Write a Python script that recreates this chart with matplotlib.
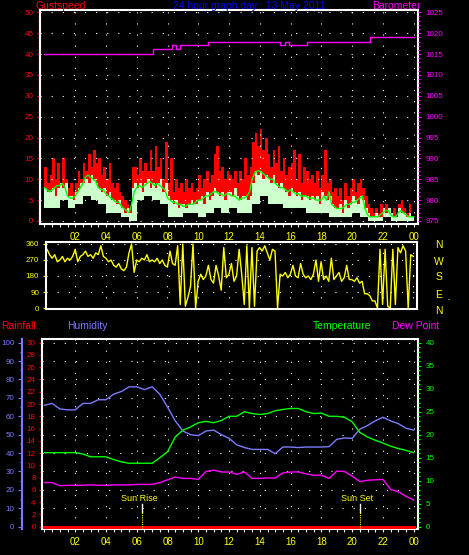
"""24 hour weather graph for 13 May 2011: wind, direction, humidity and temperature."""

import matplotlib
matplotlib.use("Agg")
import matplotlib.pyplot as plt
import numpy as np
from matplotlib.ticker import AutoMinorLocator, FixedLocator, MultipleLocator

plt.rcParams["font.family"] = ["Liberation Sans", "DejaVu Sans"]

# ------------------------------------------------------------------- data
# wind speed, 10 minute readings 00:00 -> 24:00
gust = [13, 9, 11, 15, 10, 14, 9, 15, 10, 8, 9, 7,
        9, 12, 10, 14, 12, 16, 13, 17, 14, 15, 11, 13,
        10, 14, 9, 8, 9, 7, 6, 5, 4, 3, 13, 13,
        11, 15, 12, 14, 12, 17, 12, 18, 13, 15, 10, 19,
        9, 15, 7, 10, 8, 9, 7, 10, 8, 9, 7, 8,
        11, 8, 10, 12, 9, 11, 16, 18, 12, 13, 10, 12,
        11, 10, 12, 9, 12, 10, 15, 11, 13, 19, 21, 18,
        22, 17, 20, 16, 13, 17, 14, 18, 12, 15, 11, 13,
        14, 17, 10, 16, 9, 13, 12, 10, 11, 9, 12, 8,
        11, 17, 9, 10, 7, 8, 6, 8, 5, 9, 6, 8,
        10, 7, 9, 10, 8, 6, 4, 3, 2, 3, 2, 4,
        3, 4, 3, 2, 3, 1, 4, 5, 3, 2, 4, 1,
        2]
wind = [8, 7, 7, 8, 6, 8, 9, 8, 9, 6, 6, 5,
        7, 8, 9, 9, 10, 9, 11, 10, 9, 8, 7, 8,
        6, 7, 5, 5, 4, 5, 3, 2, 3, 2, 8, 9,
        8, 9, 7, 9, 10, 8, 9, 8, 9, 10, 7, 9,
        6, 5, 4, 5, 3, 4, 4, 3, 4, 5, 4, 4,
        5, 6, 4, 7, 5, 6, 8, 7, 6, 7, 5, 7,
        7, 6, 8, 6, 5, 6, 6, 5, 6, 9, 12, 11,
        12, 10, 11, 10, 9, 11, 9, 8, 9, 8, 7, 6,
        8, 7, 6, 7, 5, 6, 6, 5, 6, 5, 6, 4,
        7, 6, 5, 6, 4, 3, 3, 4, 2, 5, 3, 4,
        6, 5, 4, 6, 5, 3, 2, 1, 1, 2, 1, 1,
        3, 2, 3, 2, 1, 1, 3, 2, 2, 1, 2, 1,
        1]
wind_avg = [8, 7.5, 7, 7.5, 8, 8.5, 8.5, 9, 8, 6, 5.5, 5.5,
            6, 7, 8, 9, 10.5, 11, 10.5, 10, 9.5, 8, 7.5, 7.5,
            6.5, 6, 5.5, 5, 4.5, 4.5, 3.5, 3, 2.5, 2, 4, 7,
            8, 8.5, 8, 8.5, 9, 9.5, 9, 8.5, 9, 8.5, 8, 7.5,
            5.5, 5, 4.5, 4.5, 4, 4, 3.5, 3.5, 4, 4, 4, 4.5,
            5, 5, 5.5, 6, 6, 6.5, 7, 7, 6.5, 6.5, 6, 6.5,
            6.5, 6, 6, 5.5, 5, 5.5, 5.5, 6, 7, 10, 11.5, 12,
            12, 11.5, 11, 10.5, 10, 10, 9, 8.5, 8, 8, 7.5, 7,
            7.5, 7, 6.5, 6.5, 6, 6, 6, 5.5, 5.5, 5.5, 5, 5,
            5, 6, 5, 7, 4, 3.5, 3, 3, 3, 3.5, 4, 4,
            4.5, 4.5, 5, 5.5, 6, 3, 1.5, 1, 1, 1, 1, 1.5,
            2, 2.5, 2.5, 1.5, 1, 1, 2, 2.5, 2, 1.5, 1, 1,
            1]
# lull under the wind bars, 30 minute readings
lull = [3, 3, 5, 3, 4, 6, 5, 4, 2, 2, 1, 0,
        5, 6, 5, 4, 1, 1, 2, 2, 1, 2, 3, 2,
        3, 2, 2, 4, 6, 4, 4, 3, 3, 3, 2, 2,
        2, 1, 1, 1, 2, 1, 0, 0, 1, 0, 0, 0, 0]

# barometer: hour of each change and the new reading (hPa)
baro_hours = [0, 7.06, 8.29, 8.55, 8.81, 10.61, 15.31, 15.63, 15.89, 17.06, 21.15, 24.0]
baro_hpa = [1015.0, 1016.2, 1017.1, 1016.2, 1017.1, 1018.0, 1017.1, 1018.0,
            1017.1, 1018.0, 1019.0, 1019.0]

# wind direction, 10 minute readings (degrees)
direction = [310, 330, 300, 280, 300, 260, 270, 290, 260, 280, 270, 290,
             330, 260, 290, 300, 320, 290, 300, 280, 310, 300, 350, 290,
             280, 260, 270, 240, 230, 250, 220, 210, 230, 310, 360, 200,
             270, 260, 280, 270, 300, 260, 270, 260, 280, 250, 270, 240,
             230, 320, 250, 240, 350, 20, 360, 10, 60, 120, 360, 0,
             150, 190, 160, 180, 240, 160, 140, 240, 180, 100, 340, 170,
             190, 250, 150, 180, 330, 190, 20, 350, 0, 340, 10, 320,
             340, 320, 350, 310, 270, 330, 320, 0, 190, 180, 200, 170,
             190, 240, 180, 170, 250, 190, 170, 180, 160, 190, 270, 150,
             260, 160, 180, 150, 280, 160, 180, 200, 150, 170, 240, 160,
             160, 150, 170, 140, 150, 80, 80, 70, 40, 40, 0, 330,
             20, 330, 10, 0, 330, 20, 340, 310, 350, 320, 0, 300,
             290]

# 30 minute readings
humidity = [66, 67, 64, 63.5, 63.5, 67, 67, 69, 69, 72, 73.5, 76,
            76, 74.5, 76, 72, 65, 57.5, 52, 50, 49.5, 52, 52.5, 50,
            48, 44.5, 43, 42, 42, 42, 39.7, 43.3, 43.3, 43, 43.3, 43.3,
            43.3, 43.5, 47.5, 48.2, 48, 53, 55, 57.5, 59.5, 57.5, 56, 53.5, 52.5]
temperature = [16.1, 16.1, 16.1, 16.1, 16.1, 15.8, 15.2, 15.2, 15.2, 14.6, 14.1, 13.8,
               13.8, 13.8, 13.8, 15.0, 16.3, 19.5, 21.0, 21.7, 22.6, 22.9, 22.6, 23.1,
               24.0, 24.0, 25.0, 24.6, 24.4, 24.6, 25.2, 25.5, 25.7, 25.7, 25.0, 24.6,
               24.7, 24.0, 24.0, 23.8, 22.8, 20.5, 19.5, 18.8, 18.2, 17.5, 17.0, 16.6, 16.1]
dew_point = [9.6, 9.6, 8.9, 9.0, 9.0, 9.0, 9.1, 9.0, 9.0, 9.1, 9.1, 9.1,
             9.2, 9.2, 9.2, 9.6, 10.2, 10.8, 10.5, 10.5, 10.3, 12.0, 12.3, 11.9,
             11.9, 11.4, 11.9, 10.5, 10.5, 10.6, 10.6, 11.7, 11.9, 11.9, 11.5, 11.2,
             11.2, 10.5, 12.1, 12.0, 11.0, 9.8, 10.1, 10.2, 10.3, 8.1, 7.6, 6.6, 5.8]
rainfall = [0.0] * 49

hour_ticks = list(range(2, 25, 2))
hour_labels = ["02", "04", "06", "08", "10", "12", "14", "16", "18", "20", "22", "00"]
compass = ["N", "W", "S", "E", "N"]
sunrise_hour = 6.32
sunset_hour = 20.5

# ----------------------------------------------------------------- colours
RED = "#FF0000"
PALE = "#CCFFCC"
GREEN = "#00FF00"
MAGENTA = "#FF00FF"
YELLOW = "#FFFF00"
BLUE = "#0000FF"
HUM_BLUE = "#7B7BFF"
WHITE = "#FFFFFF"
DOTS = (0, (1, 9))

WIDTH, HEIGHT = 469, 555
fig = plt.figure(figsize=(WIDTH / 100, HEIGHT / 100), dpi=100, facecolor="black")


def panel(left, top, right, bottom):
    ax = fig.add_axes([left / WIDTH, 1 - bottom / HEIGHT,
                       (right - left) / WIDTH, (bottom - top) / HEIGHT])
    ax.set_facecolor("black")
    for spine in ax.spines.values():
        spine.set_color(WHITE)
        spine.set_linewidth(1.5)
    return ax


def label(x, y, text, color, size=7.5, ha="left"):
    fig.text(x / WIDTH, 1 - y / HEIGHT, text, color=color, fontsize=size,
             ha=ha, va="center")


def hour_axis(ax, xmin, labels=True):
    ax.set_xlim(xmin, 24.26)
    ax.xaxis.set_major_locator(FixedLocator(hour_ticks))
    ax.grid(True, color=WHITE, linestyle=DOTS, linewidth=0.8)
    if labels:
        ax.xaxis.set_minor_locator(MultipleLocator(0.5))
        ax.set_xticklabels(hour_labels)
        ax.tick_params(axis="x", which="both", colors=WHITE, labelcolor=YELLOW,
                       labelsize=7, length=2.4, width=0.8, pad=3.5)
    else:
        ax.tick_params(axis="x", length=0, labelbottom=False)


def hide_spines(ax):
    for spine in ax.spines.values():
        spine.set_visible(False)


t10 = np.arange(len(gust)) / 6
t30 = np.arange(len(lull)) / 2

# ------------------------------------------------------- wind + barometer
ax_wind = panel(40, 10, 417.7, 224)
hour_axis(ax_wind, -0.29)
ax_wind.fill_between(t10, 0, gust, step="post", color=RED, linewidth=0)
ax_wind.fill_between(t10, 0, wind, step="post", color=PALE, linewidth=0)
ax_wind.fill_between(t30, 0, lull, step="post", color="black", linewidth=0)
ax_wind.plot(t10, wind_avg, color=GREEN, linewidth=1)
ax_wind.set_ylim(-0.72, 50.55)
ax_wind.yaxis.set_major_locator(MultipleLocator(5))
ax_wind.yaxis.set_minor_locator(AutoMinorLocator(5))
ax_wind.tick_params(axis="y", which="both", colors=RED, labelsize=5.8, pad=2.4, width=0.8)
ax_wind.tick_params(axis="y", which="major", length=2.4)
ax_wind.tick_params(axis="y", which="minor", length=1.4)

ax_baro = ax_wind.twinx()
hide_spines(ax_baro)
ax_baro.step(baro_hours, baro_hpa, where="post", color=MAGENTA, linewidth=1)
ax_baro.set_ylim(975 - 0.72, 1025.55)
ax_baro.yaxis.set_major_locator(MultipleLocator(5))
ax_baro.yaxis.set_minor_locator(AutoMinorLocator(5))
ax_baro.tick_params(axis="y", which="both", colors=MAGENTA, labelsize=5.8, pad=3.4, width=0.8)
ax_baro.tick_params(axis="y", which="major", length=2.4)
ax_baro.tick_params(axis="y", which="minor", length=1.4)

# ------------------------------------------------------------- direction
ax_dir = panel(45.7, 241.7, 417.3, 309)
hour_axis(ax_dir, 0.08, labels=False)
ax_dir.plot(t10, direction, color=YELLOW, linewidth=1)
ax_dir.set_ylim(-5.6, 372.9)
ax_dir.yaxis.set_major_locator(MultipleLocator(90))
ax_dir.tick_params(axis="y", colors=YELLOW, labelsize=5.8, length=2.4, width=0.8, pad=2.4)

# ------------------------------------------- humidity, rain, temperature
ax_hum = panel(42.3, 339.3, 417.7, 529.3)
hour_axis(ax_hum, -0.14)
ax_hum.plot(t30, humidity, color=HUM_BLUE, linewidth=1)
ax_hum.set_ylim(-1.41, 101.84)
ax_hum.yaxis.set_major_locator(MultipleLocator(10))
ax_hum.yaxis.set_minor_locator(AutoMinorLocator(2))
ax_hum.spines["left"].set_position(("outward", 14.8))
ax_hum.spines["left"].set_color(HUM_BLUE)
ax_hum.tick_params(axis="y", which="both", colors=HUM_BLUE, labelsize=5.8, pad=2.4, width=0.8)
ax_hum.tick_params(axis="y", which="major", length=2.8)
ax_hum.tick_params(axis="y", which="minor", length=1.4)

ax_rain = ax_hum.twinx()
hide_spines(ax_rain)
ax_rain.spines["left"].set_visible(True)
ax_rain.spines["left"].set_color(WHITE)
ax_rain.spines["left"].set_linewidth(1.5)
ax_rain.yaxis.tick_left()
ax_rain.plot(t30, rainfall, color=RED, linewidth=2.2)
ax_rain.set_ylim(-0.42, 30.55)
ax_rain.yaxis.set_major_locator(MultipleLocator(2))
ax_rain.yaxis.set_minor_locator(AutoMinorLocator(2))
ax_rain.tick_params(axis="y", which="both", colors=RED, labelsize=5.8, pad=2.4, width=0.8)
ax_rain.tick_params(axis="y", which="major", length=2.4)
ax_rain.tick_params(axis="y", which="minor", length=1.4)

ax_temp = ax_hum.twinx()
hide_spines(ax_temp)
ax_temp.plot(t30, temperature, color=GREEN, linewidth=1)
ax_temp.plot(t30, dew_point, color=MAGENTA, linewidth=1)
ax_temp.set_ylim(-0.56, 40.74)
ax_temp.yaxis.set_major_locator(MultipleLocator(5))
ax_temp.yaxis.set_minor_locator(AutoMinorLocator(5))
ax_temp.tick_params(axis="y", which="both", colors=GREEN, labelsize=5.8, pad=3.4, width=0.8)
ax_temp.tick_params(axis="y", which="major", length=2.4)
ax_temp.tick_params(axis="y", which="minor", length=1.4)

for hour, text in [(sunrise_hour, "Sun Rise"), (sunset_hour, "Sun Set")]:
    ax_temp.text(hour - 0.15, 6.2, text, color=YELLOW, fontsize=6.5, ha="center", va="center")
    ax_temp.plot([hour, hour], [3.25, 4.9], color=WHITE, linewidth=1)
    ax_temp.plot([hour, hour], [-0.56, 3.25], color=YELLOW, linewidth=0.8, linestyle=(0, (1, 1)))

# ----------------------------------------------------------------- texts
label(35, 6, "Gustspeed", RED)
label(249, 6, "24 hour graph day : 13 May 2011", BLUE, ha="center")
label(371.7, 6, "Barometer", MAGENTA)
for letter, y in zip(compass, [245, 261.7, 277.5, 295, 310.7]):
    label(439, y, letter, YELLOW, ha="center")
label(448, 300, "-", YELLOW, size=5)
label(1, 326, "Rainfall", RED)
label(66.7, 326, "Humidity", HUM_BLUE)
label(312.7, 326, "Temperature", GREEN)
label(392, 326, "Dew Point", MAGENTA)

fig.savefig("out.png", dpi=100, facecolor="black")
